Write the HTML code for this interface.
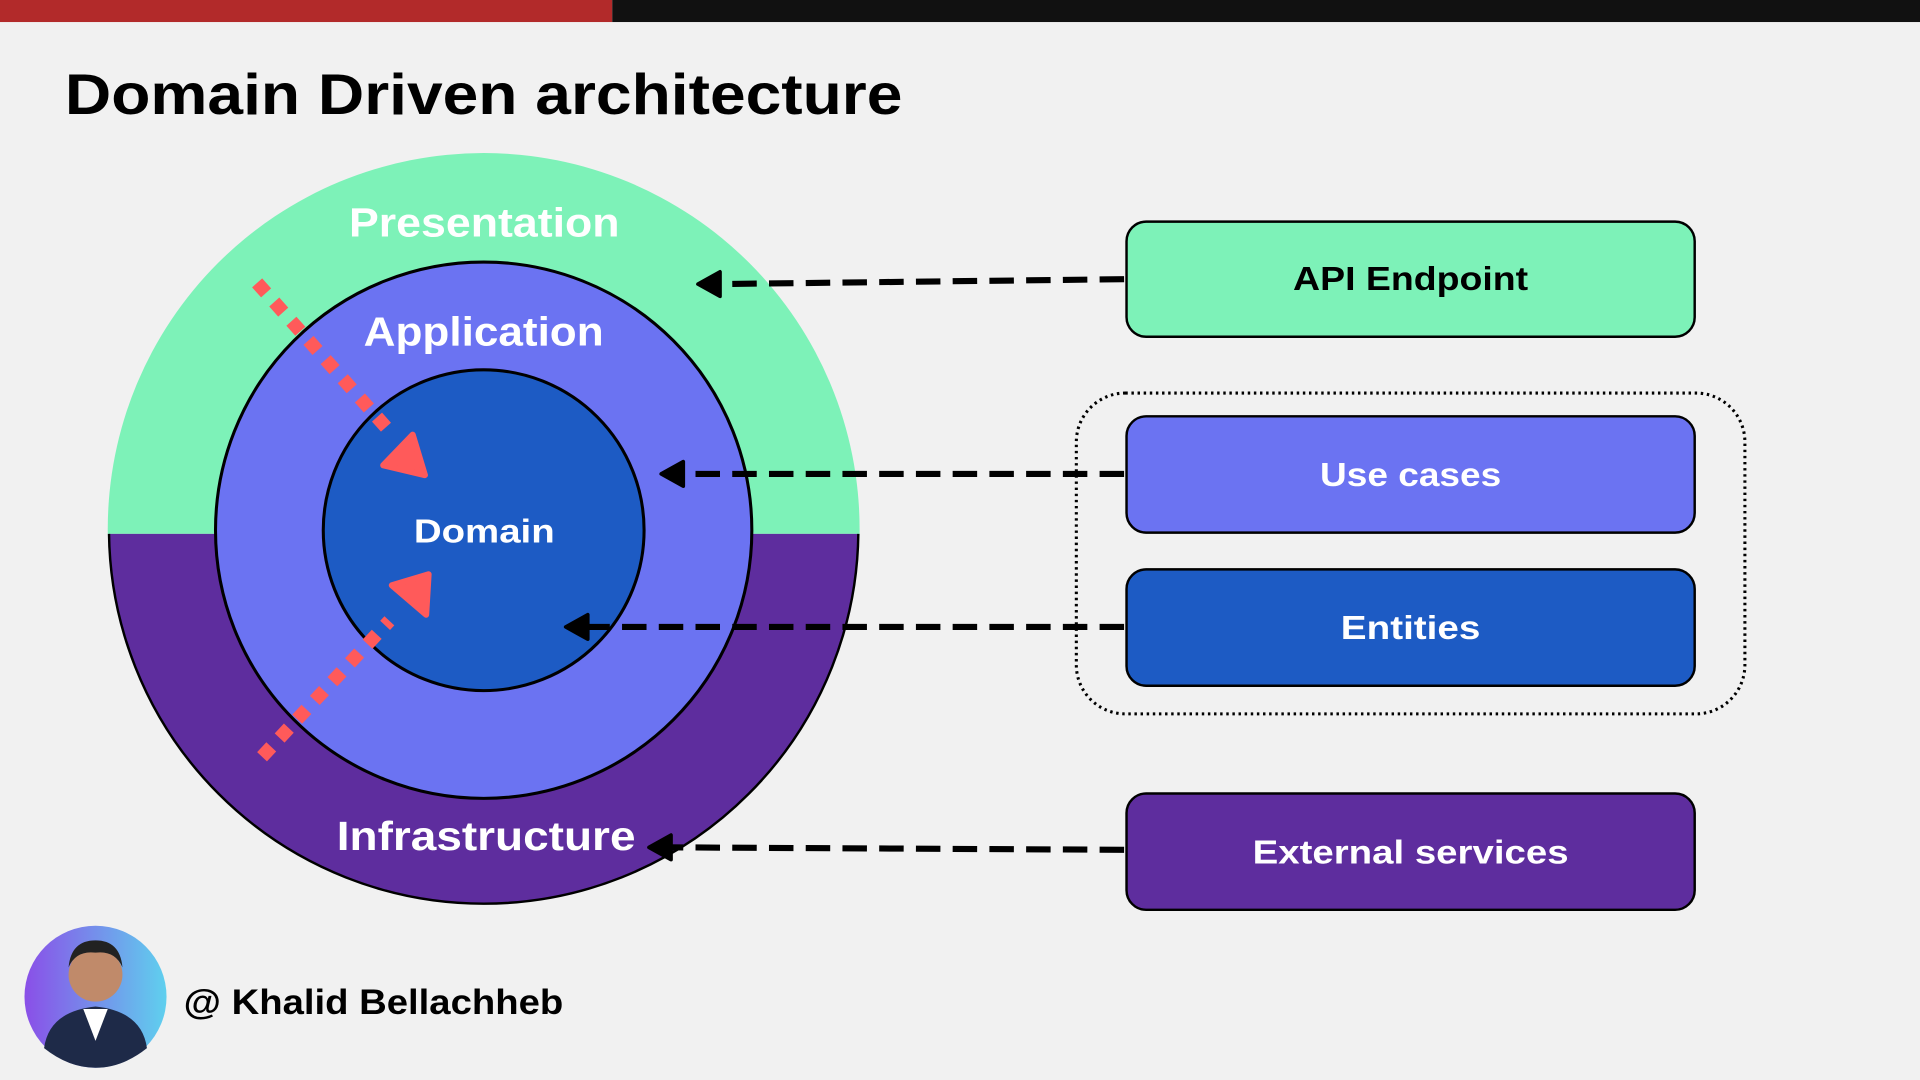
<!DOCTYPE html>
<html><head><meta charset="utf-8"><style>
html,body{margin:0;padding:0;background:#f1f1f1;width:1920px;height:1080px;overflow:hidden}
svg{display:block}
text{font-family:"Liberation Sans",sans-serif;font-weight:bold}
</style></head><body>
<svg width="1920" height="1080" viewBox="0 0 1568 882" xmlns="http://www.w3.org/2000/svg">
<defs>
<linearGradient id="av" x1="0" y1="0" x2="1" y2="0"><stop offset="0" stop-color="#8a4fe8"/><stop offset="1" stop-color="#5fd0ee"/></linearGradient>
<clipPath id="top"><rect x="0" y="0" width="1568" height="436"/></clipPath>
<clipPath id="bot"><rect x="0" y="436" width="1568" height="446"/></clipPath>
</defs>
<rect width="1568" height="882" fill="#f1f1f1"/>
<rect x="0" y="0" width="500" height="18" fill="#b22a2a"/>
<rect x="500" y="0" width="1068" height="18" fill="#111"/>
<text x="53" y="93" font-size="47" fill="#000" textLength="684" lengthAdjust="spacingAndGlyphs">Domain Driven architecture</text>

<circle cx="395" cy="432" r="307" fill="#7df2b8" clip-path="url(#top)"/>
<circle cx="395" cy="432" r="306" fill="#5e2d9e" stroke="#000" stroke-width="2" clip-path="url(#bot)"/>
<circle cx="395" cy="433" r="219" fill="#6b73f2" stroke="#000" stroke-width="2.5"/>
<circle cx="395" cy="433" r="131" fill="#1d5bc4" stroke="#000" stroke-width="2.5"/>

<text x="285" y="193" font-size="33" fill="#fff" textLength="221" lengthAdjust="spacingAndGlyphs">Presentation</text>
<text x="297" y="282" font-size="33" fill="#fff" textLength="196" lengthAdjust="spacingAndGlyphs">Application</text>
<text x="338" y="443" font-size="27" fill="#fff" textLength="115" lengthAdjust="spacingAndGlyphs">Domain</text>
<text x="275" y="694" font-size="33" fill="#fff" textLength="244" lengthAdjust="spacingAndGlyphs">Infrastructure</text>

<line x1="210" y1="231" x2="318" y2="352" stroke="#ff5a5a" stroke-width="11" stroke-dasharray="11 10"/>
<polygon points="347,388 313,380 337,355" fill="#ff5a5a" stroke="#ff5a5a" stroke-width="5" stroke-linejoin="round"/>
<line x1="214" y1="618" x2="318" y2="507" stroke="#ff5a5a" stroke-width="11" stroke-dasharray="11 10"/>
<polygon points="350,469 348,502 320,478" fill="#ff5a5a" stroke="#ff5a5a" stroke-width="5" stroke-linejoin="round"/>

<rect x="920" y="181" width="464" height="94" rx="16" fill="#7df2b8" stroke="#000" stroke-width="2"/>
<text x="1056" y="237" font-size="27" fill="#000" textLength="192" lengthAdjust="spacingAndGlyphs">API Endpoint</text>
<rect x="879" y="321" width="546" height="262" rx="40" fill="none" stroke="#000" stroke-width="2.5" stroke-dasharray="2 3"/>
<rect x="920" y="340" width="464" height="95" rx="16" fill="#6b73f2" stroke="#000" stroke-width="2"/>
<text x="1078" y="397" font-size="27" fill="#fff" textLength="148" lengthAdjust="spacingAndGlyphs">Use cases</text>
<rect x="920" y="465" width="464" height="95" rx="16" fill="#1d5bc4" stroke="#000" stroke-width="2"/>
<text x="1095" y="522" font-size="27" fill="#fff" textLength="114" lengthAdjust="spacingAndGlyphs">Entities</text>
<rect x="920" y="648" width="464" height="95" rx="16" fill="#5e2d9e" stroke="#000" stroke-width="2"/>
<text x="1023" y="705" font-size="27" fill="#fff" textLength="258" lengthAdjust="spacingAndGlyphs">External services</text>

<g stroke="#000" stroke-width="5" stroke-dasharray="20 10" fill="none">
<line x1="918" y1="228" x2="585" y2="232"/>
<line x1="918" y1="387" x2="555" y2="387"/>
<line x1="918" y1="512" x2="477" y2="512"/>
<line x1="918" y1="694" x2="545" y2="692"/>
</g>
<g fill="#000" stroke="#000" stroke-width="3" stroke-linejoin="round">
<polygon points="570,232 588,222 588,242"/>
<polygon points="540,387 558,377 558,397"/>
<polygon points="462,512 480,502 480,522"/>
<polygon points="530,692 548,682 548,702"/>
</g>

<circle cx="78" cy="814" r="58" fill="url(#av)"/>
<circle cx="78" cy="796" r="22" fill="#c08a6a"/>
<path d="M56 790 Q58 768 78 768 Q98 768 100 790 Q94 776 78 778 Q62 776 56 790Z" fill="#222"/>
<path d="M36 856 Q40 826 78 822 Q116 826 120 856 Q100 872 78 872 Q56 872 36 856Z" fill="#1e2a48"/>
<path d="M68 824 L78 850 L88 824Z" fill="#fff"/>
<text x="150" y="828" font-size="29" fill="#000" textLength="310" lengthAdjust="spacingAndGlyphs">@ Khalid Bellachheb</text>
</svg>
</body></html>
